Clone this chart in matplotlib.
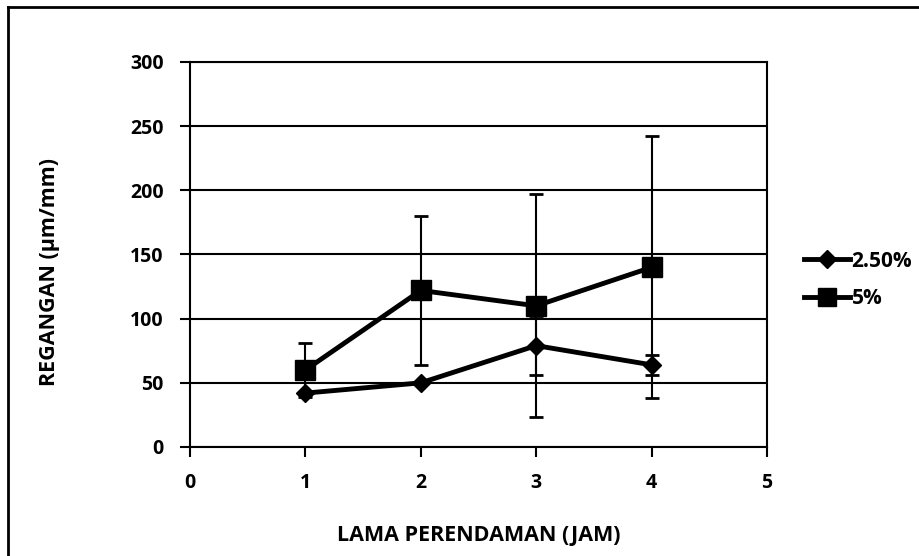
import matplotlib.pyplot as plt
from matplotlib.lines import Line2D

plt.rcParams['font.family'] = ['Open Sans', 'DejaVu Sans']

jam = [1, 2, 3, 4]
reg_25 = [42, 50, 79, 64]
err_25 = [0, 0, 23, 8]
reg_5 = [60, 122, 110, 140]
err_5 = [21, 58, 87, 102]

fig = plt.figure(figsize=(9.19, 5.56), dpi=100)
ax = fig.add_axes([190 / 919, 1 - 447 / 556, (767 - 190) / 919, (447 - 62) / 556])

ax.errorbar(jam, reg_25, yerr=err_25, color='black', lw=3.5, marker='D', ms=9,
            ecolor='black', elinewidth=1.5, capsize=5, capthick=2, label='2.50%', zorder=3)
ax.errorbar(jam, reg_5, yerr=err_5, color='black', lw=3.5, marker='s', ms=14,
            ecolor='black', elinewidth=1.5, capsize=5, capthick=2, label='5%', zorder=3)

ax.set_xlim(0, 5)
ax.set_ylim(0, 300)
ax.set_xticks(range(6))
ax.set_yticks(range(0, 301, 50))
ax.grid(axis='y', color='black', lw=1.5)
ax.set_axisbelow(True)
for s in ['left', 'bottom', 'right', 'top']:
    ax.spines[s].set_linewidth(1.5)
ax.tick_params(axis='x', direction='out', length=7, width=1.5, pad=12)
ax.tick_params(axis='y', direction='out', length=7, width=1.5, pad=12)
for lab in ax.get_xticklabels() + ax.get_yticklabels():
    lab.set_fontsize(14)
    lab.set_fontweight('bold')

ax.set_xlabel('LAMA PERENDAMAN (JAM)', fontsize=15.5, fontweight='bold', va='center')
ax.xaxis.set_label_coords(0.5, (447 - 536) / 385)
ax.set_ylabel('REGANGAN (µm/mm)', fontsize=15.5, fontweight='bold', va='center')
ax.yaxis.set_label_coords((50 - 190) / 577, (447 - 272) / 385)

handles = [Line2D([], [], color='black', lw=3.5, marker='D', ms=9),
           Line2D([], [], color='black', lw=3.5, marker='s', ms=13)]
fig.legend(handles, ['2.50%', '5%'], loc='center left', bbox_to_anchor=(785 / 919, 1 - 280 / 556),
           frameon=False, handlelength=2.2, handletextpad=0.1, labelspacing=0.8,
           prop={'weight': 'bold', 'size': 15})

# outer chart border (top and left visible)
fig.add_artist(Line2D([8 / 919, 8 / 919], [0, 1 - 7 / 556], color='black', lw=2,
                      transform=fig.transFigure))
fig.add_artist(Line2D([8 / 919, 1], [1 - 7 / 556, 1 - 7 / 556], color='black', lw=2,
                      transform=fig.transFigure))

fig.savefig('out.png', dpi=100)
